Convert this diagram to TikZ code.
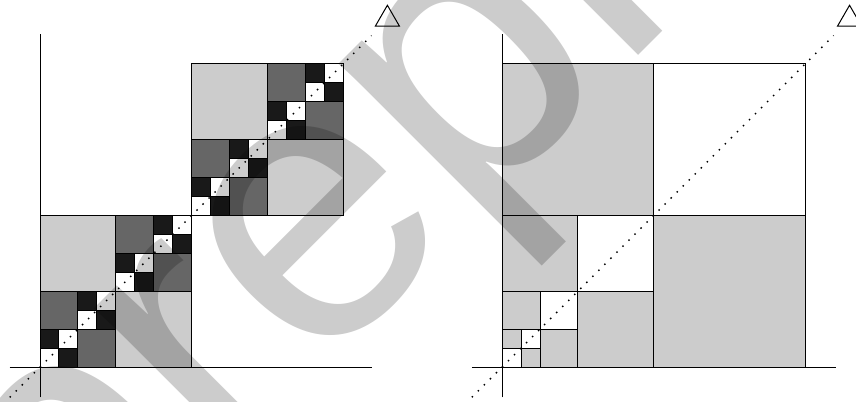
\documentclass[tikz,border=0pt]{standalone}
\usepackage{fontspec}
\usepackage{tikz}
\usetikzlibrary{shapes.geometric}
\newfontfamily\markfont{Liberation Sans}
\tikzset{
  cell/.style={draw=black, line width=0.75pt},
  whitecell/.style={cell, fill=white},
  lightcell/.style={cell, fill=black!20},
  darkcell/.style={cell, fill=black!60},
  blackcell/.style={cell, fill=black!90},
  axis/.style={line width=0.6pt},
  diag/.style={line width=1.1pt, dash pattern=on 1.1pt off 5.3pt},
  tip/.style={draw, regular polygon, regular polygon sides=3, minimum size=0.733cm,
              inner sep=0pt, outer sep=0pt, line width=0.75pt, fill=white},
  watermark/.style={text=black, text opacity=0.2, inner sep=0pt, outer sep=0pt,
                    font=\markfont\fontsize{292.5}{292.5}\selectfont}
}

\begin{document}
\begin{tikzpicture}[x=0.5cm, y=0.5cm]
  \useasboundingbox (-2.112,-1.795) rectangle (43.08,19.377);

  % left: two blocks on the diagonal
  \coordinate (lo) at (0,0);
  \coordinate (lxa) at (-1.6,0);
  \coordinate (lxb) at (17.55,0);
  \coordinate (lya) at (0,-1.6);
  \coordinate (lyb) at (0,17.6);
  \draw[axis] (lxa) -- (lxb);
  \draw[axis] (lya) -- (lyb);
  \foreach \a in {0,8} {
    \draw[lightcell] (\a,\a+4) rectangle ++(4,4);
    \draw[lightcell] (\a+4,\a) rectangle ++(4,4);
    \foreach \b in {0,4} {
      \draw[darkcell] (\a+\b,\a+\b+2) rectangle ++(2,2);
      \draw[darkcell] (\a+\b+2,\a+\b) rectangle ++(2,2);
      \foreach \c in {0,2} {
        \draw[blackcell] (\a+\b+\c,\a+\b+\c+1) rectangle ++(1,1);
        \draw[blackcell] (\a+\b+\c+1,\a+\b+\c) rectangle ++(1,1);
        \draw[whitecell] (\a+\b+\c,\a+\b+\c) rectangle ++(1,1);
        \draw[whitecell] (\a+\b+\c+1,\a+\b+\c+1) rectangle ++(1,1);
      }
    }
  }
  \coordinate (lda) at (-1.6,-1.6);
  \coordinate (ldb) at (17.5,17.5);
  \draw[diag] (lda) -- (ldb);
  \node[tip, anchor=south] (ltip) at (18.34,18.0) {};

  % right: one big square, refined towards the origin
  \begin{scope}[shift={(24.4,0)}]
    \coordinate (ro) at (0,0);
    \coordinate (rxa) at (-1.6,0);
    \coordinate (rxb) at (17.6,0);
    \coordinate (rya) at (0,-1.6);
    \coordinate (ryb) at (0,17.6);
    \draw[axis] (rxa) -- (rxb);
    \draw[axis] (rya) -- (ryb);
    \draw[whitecell] (8,8) rectangle (16,16);
    \foreach \s in {8,4,2,1} {
      \draw[lightcell] (0,\s) rectangle ++(\s,\s);
      \draw[lightcell] (\s,0) rectangle ++(\s,\s);
      \draw[whitecell] (\s,\s) rectangle ++(\s,\s);
    }
    \draw[whitecell] (0,0) rectangle (1,1);
    \coordinate (rda) at (-1.6,-1.6);
    \coordinate (rdb) at (17.5,17.5);
    \draw[diag] (rda) -- (rdb);
    \node[tip, anchor=south] (rtip) at (18.34,18.0) {};
  \end{scope}

  \node[watermark, anchor=base west, rotate=45] (mark) at (1.505,-13.64) {preprint};
\end{tikzpicture}
\end{document}
